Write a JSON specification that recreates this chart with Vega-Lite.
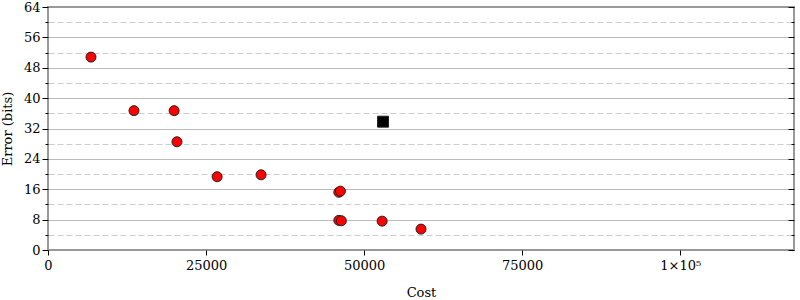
{
  "$schema": "https://vega.github.io/schema/vega-lite/v6.json",
  "width": 746,
  "height": 243,
  "autosize": {"type": "none"},
  "padding": {"left": 48, "top": 7, "right": 6, "bottom": 50},
  "config": {
    "font": "DejaVu Serif",
    "view": {"stroke": "#999999", "strokeWidth": 2},
    "axis": {
      "labelFont": "DejaVu Serif",
      "titleFont": "DejaVu Serif",
      "labelFontSize": 13,
      "titleFontSize": 13,
      "titleFontWeight": "normal",
      "labelColor": "#000000",
      "titleColor": "#000000",
      "tickColor": "#000000",
      "labelFlush": false,
      "domain": false
    }
  },
  "data": {
    "values": [
      {"cost": 6800, "error": 50.8, "kind": "sample"},
      {"cost": 13600, "error": 36.7, "kind": "sample"},
      {"cost": 19950, "error": 36.7, "kind": "sample"},
      {"cost": 20400, "error": 28.5, "kind": "sample"},
      {"cost": 26750, "error": 19.3, "kind": "sample"},
      {"cost": 33700, "error": 19.8, "kind": "sample"},
      {"cost": 46000, "error": 15.2, "kind": "sample"},
      {"cost": 46250, "error": 15.5, "kind": "sample"},
      {"cost": 46000, "error": 7.8, "kind": "sample"},
      {"cost": 46400, "error": 7.7, "kind": "sample"},
      {"cost": 52850, "error": 7.6, "kind": "sample"},
      {"cost": 59000, "error": 5.5, "kind": "sample"},
      {"cost": 53000, "error": 33.8, "kind": "best"}
    ]
  },
  "resolve": {"axis": {"y": "independent"}},
  "layer": [
    {
      "mark": {"type": "point", "filled": true, "opacity": 1, "strokeWidth": 1},
      "encoding": {
        "x": {
          "field": "cost",
          "type": "quantitative",
          "title": "Cost",
          "scale": {"domain": [0, 118000], "nice": false, "zero": false},
          "axis": {
            "values": [0, 25000, 50000, 75000, 100000],
            "grid": false,
            "tickSize": 5,
            "labelPadding": 4,
            "titlePadding": 14,
            "labelExpr": "datum.value == 100000 ? '1×10⁵' : format(datum.value, 'd')"
          }
        },
        "y": {
          "field": "error",
          "type": "quantitative",
          "title": "Error (bits)",
          "scale": {"domain": [0, 64], "nice": false},
          "axis": {
            "orient": "left",
            "values": [0, 4, 8, 12, 16, 20, 24, 28, 32, 36, 40, 44, 48, 52, 56, 60, 64],
            "labelExpr": "datum.value % 8 == 0 ? datum.label : ''",
            "grid": true,
            "gridColor": {"condition": {"test": "datum.value % 8 == 0", "value": "#bbbbbb"}, "value": "#cccccc"},
            "gridDash": {"condition": {"test": "datum.value % 8 == 0", "value": []}, "value": [6, 3]},
            "gridOpacity": {"condition": {"test": "datum.value == 0 || datum.value == 64", "value": 0}, "value": 1},
            "tickSize": {"condition": {"test": "datum.value % 8 == 0", "value": 6}, "value": 3},
            "labelPadding": 2,
            "titlePadding": 9
          }
        },
        "shape": {
          "field": "kind",
          "type": "nominal",
          "scale": {"domain": ["sample", "best"], "range": ["circle", "square"]},
          "legend": null
        },
        "color": {
          "field": "kind",
          "type": "nominal",
          "scale": {"domain": ["sample", "best"], "range": ["#ff0000", "#000000"]},
          "legend": null
        },
        "size": {
          "field": "kind",
          "type": "nominal",
          "scale": {"domain": ["sample", "best"], "range": [100, 120]},
          "legend": null
        },
        "stroke": {"value": "#222222"}
      }
    },
    {
      "mark": {"type": "point", "opacity": 0},
      "encoding": {
        "x": {"field": "cost", "type": "quantitative"},
        "y": {
          "field": "error",
          "type": "quantitative",
          "axis": {
            "orient": "right",
            "title": null,
            "labels": false,
            "grid": false,
            "values": [0, 4, 8, 12, 16, 20, 24, 28, 32, 36, 40, 44, 48, 52, 56, 60, 64],
            "tickSize": {"condition": {"test": "datum.value % 8 == 0", "value": -6}, "value": -3}
          }
        }
      }
    }
  ]
}
